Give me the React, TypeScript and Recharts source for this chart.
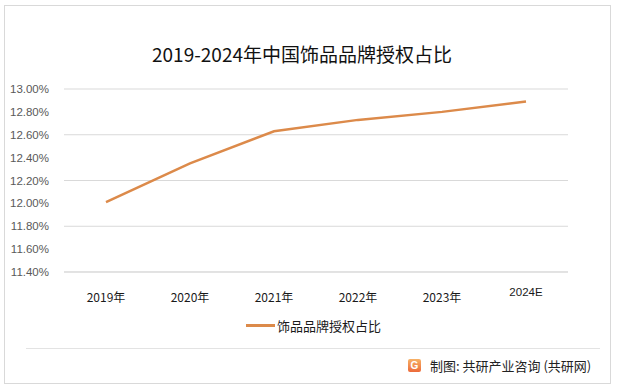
import { LineChart, Line, XAxis, YAxis, CartesianGrid } from "recharts"

const years = ["2019年", "2020年", "2021年", "2022年", "2023年", "2024E"]
const shares = [12.01, 12.35, 12.63, 12.73, 12.8, 12.89]
const yTicks = [11.4, 11.6, 11.8, 12.0, 12.2, 12.4, 12.6, 12.8, 13.0]

const seriesName = "饰品品牌授权占比"
const title = "2019-2024年中国饰品品牌授权占比"
const source = "制图: 共研产业咨询 (共研网)"

const data = years.map((year, i) => ({ year, share: shares[i] }))

const CJK = '"Noto Sans CJK SC", "Noto Sans", sans-serif'
const ORANGE = "#DC8A4A"

function YearTick(props: any) {
  const { x, y, payload } = props
  const est = payload.value === "2024E"
  return (
    <text
      x={x}
      y={y + (est ? 16 : 22)}
      textAnchor="middle"
      fontSize={est ? 11.5 : 12}
      fontFamily={est ? '"Liberation Sans", sans-serif' : CJK}
      fill="#1a1a1a"
    >
      {payload.value}
    </text>
  )
}

function LegendBox() {
  return (
    <div style={{ position: "absolute", left: 246, top: 316, display: "flex", alignItems: "center" }}>
      <div style={{ width: 29, height: 3, background: ORANGE }} />
      <span style={{ fontFamily: CJK, fontSize: 13, color: "#1a1a1a", marginLeft: 2 }}>{seriesName}</span>
    </div>
  )
}

export default function App() {
  return (
    <div style={{ position: "absolute", left: 0, top: 0, width: 618, height: 390, background: "#fff" }}>
      <div
        style={{
          position: "absolute", left: 4, top: 5, width: 607, height: 379,
          border: "1px solid #d9d9d9", boxSizing: "border-box",
        }}
      />
      <div
        style={{
          position: "absolute", left: 0, top: 40, width: 604, textAlign: "center",
          fontFamily: CJK, fontSize: 19, color: "#111",
        }}
      >
        {title}
      </div>
      <div style={{ position: "absolute", left: 0, top: 0 }}>
        <LineChart width={618} height={390} data={data} margin={{ top: 89, right: 50, bottom: 88, left: 0 }}>
          <CartesianGrid vertical={false} stroke="#d9d9d9" strokeWidth={1} />
          <XAxis
            dataKey="year"
            axisLine={{ stroke: "#d9d9d9" }}
            tickLine={false}
            tick={<YearTick />}
            interval={0}
            padding={{ left: 42, right: 42 }}
            height={30}
          />
          <YAxis
            width={64}
            domain={[11.4, 13.0]}
            ticks={yTicks}
            axisLine={false}
            tickLine={false}
            tickFormatter={(v: number) => v.toFixed(2) + "%"}
            tick={{ fontSize: 11.5, fill: "#595959", fontFamily: '"Liberation Sans Narrow", "Liberation Sans", sans-serif' }}
            tickMargin={9}
          />
          <Line
            type="linear"
            dataKey="share"
            stroke={ORANGE}
            strokeWidth={2.5}
            dot={false}
            isAnimationActive={false}
          />
        </LineChart>
      </div>
      <LegendBox />
      <div style={{ position: "absolute", left: 26, top: 348, width: 574, height: 1, background: "#e3e3e3" }} />
      <div style={{ position: "absolute", left: 408, top: 356, display: "flex", alignItems: "center" }}>
        <div
          style={{
            width: 13, height: 13, borderRadius: 2,
            background: "linear-gradient(180deg, #f7b267 0%, #ec6a3a 100%)",
            color: "#fff", fontSize: 10, fontWeight: 700, lineHeight: "13px", textAlign: "center",
            fontFamily: '"Liberation Sans", sans-serif',
          }}
        >
          G
        </div>
        <span style={{ fontFamily: CJK, fontSize: 13, color: "#222", marginLeft: 9 }}>{source}</span>
      </div>
    </div>
  )
}
